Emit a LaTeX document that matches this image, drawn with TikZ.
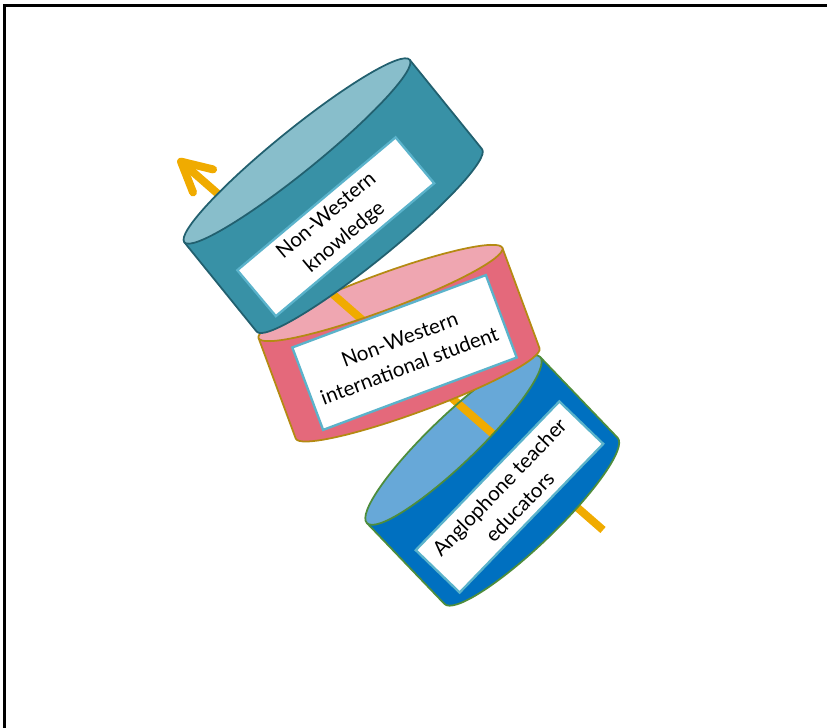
\documentclass[tikz,border=0pt]{standalone}
\usepackage{fontspec}
\setmainfont{Lato}
\usepackage{tikz}
\usetikzlibrary{arrows.meta}
\definecolor{tealbody}{HTML}{3891A6}
\definecolor{tealtop}{HTML}{88BECB}
\definecolor{tealline}{HTML}{22606F}
\definecolor{pinkbody}{HTML}{E4697B}
\definecolor{pinktop}{HTML}{EFA6B1}
\definecolor{pinkline}{HTML}{B48A12}
\definecolor{bluebody}{HTML}{0070C0}
\definecolor{bluetop}{HTML}{67A8D8}
\definecolor{blueline}{HTML}{4E8D3C}
\definecolor{boxline}{HTML}{5BB3CB}
\definecolor{axisorange}{HTML}{F0AB00}

\begin{document}
\begin{tikzpicture}[x=0.03cm,y=0.03cm,
  font=\fontsize{17.5}{24}\selectfont,
  drum/.style={line width=1.5pt,line join=round},
  tag/.style={draw=boxline,fill=white,line width=2pt,align=center,minimum width=6.2cm,inner sep=1pt},
  axisline/.style={draw=axisorange,line width=6.8pt}]
\useasboundingbox (0,0) rectangle (827,-728);
% frame
\coordinate (fTL) at (4.5,-5.3);
\coordinate (fTR) at (827,-5.3);
\coordinate (fBL) at (4.5,-728);
\draw[line width=2.3pt] (fTR) -- (fTL) -- (fBL);
% axis through the drums
\coordinate (axS) at (603,-530);
\coordinate (axE) at (178,-159);
\draw[axisline,-{Straight Barb[round,length=25pt,width=26pt]}] (axS) -- (axE);
% blue drum
\begin{scope}[shift={(453.5,-440)},rotate=43.8]
\draw[drum,draw=blueline,fill=bluebody] (-120,0) -- (-120,-112) arc[start angle=180,end angle=360,x radius=120,y radius=24] -- (120,0) -- cycle;
\fill[bluetop] (0,0) ellipse[x radius=120,y radius=24];
\begin{scope}
\clip (0,0) ellipse[x radius=120,y radius=24];
\draw[axisline] (axS) -- (axE);
\end{scope}
\draw[drum,draw=blueline] (0,0) ellipse[x radius=120,y radius=24];
\end{scope}
\node[tag,rotate=46,minimum height=1.83cm] (edu) at (509.5,-497) {Anglophone teacher\\educators};
% pink drum
\begin{scope}[shift={(380.5,-293)},rotate=20.3]
\draw[drum,draw=pinkline,fill=pinkbody] (-130,0) -- (-130,-107) arc[start angle=180,end angle=360,x radius=130,y radius=18] -- (130,0) -- cycle;
\fill[pinktop] (0,0) ellipse[x radius=130,y radius=18];
\begin{scope}
\clip (0,0) ellipse[x radius=130,y radius=18];
\draw[axisline] (axS) -- (axE);
\end{scope}
\draw[drum,draw=pinkline] (0,0) ellipse[x radius=130,y radius=18];
\end{scope}
\node[tag,rotate=20.5,minimum height=2.64cm] (stud) at (404.5,-352.5) {Non-Western\\international student};
% teal drum
\begin{scope}[shift={(297,-151)},rotate=39]
\draw[drum,draw=tealline,fill=tealbody] (-145,0) -- (-145,-115) arc[start angle=180,end angle=360,x radius=145,y radius=21] -- (145,0) -- cycle;
\draw[drum,draw=tealline,fill=tealtop] (0,0) ellipse[x radius=145,y radius=21];
\end{scope}
\node[tag,rotate=40,minimum height=1.8cm] (know) at (335.75,-226.75) {Non-Western\\knowledge};
\end{tikzpicture}
\end{document}
